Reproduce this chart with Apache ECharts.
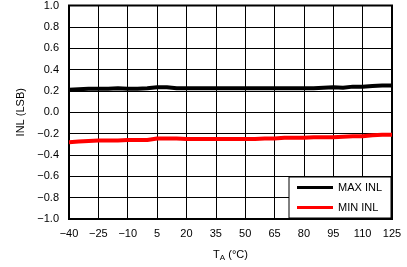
<!DOCTYPE html>
<html><head><meta charset="utf-8">
<script src="https://cdn.jsdelivr.net/npm/echarts@6/dist/echarts.min.js"></script>
<style>html,body{margin:0;padding:0;background:#fff}#c{width:407px;height:267px}</style>
</head><body><div id="c"></div>
<script>
const temps = [-40,-35,-30,-25,-20,-15,-10,-5,0,5,10,15,20,25,30,35,40,45,50,55,60,65,70,75,80,85,90,95,100,105,110,115,120,125];
const maxInl = [0.21,0.215,0.22,0.22,0.22,0.225,0.22,0.22,0.225,0.235,0.235,0.225,0.225,0.225,0.225,0.225,0.225,0.225,0.225,0.225,0.225,0.225,0.225,0.225,0.225,0.225,0.23,0.235,0.23,0.24,0.24,0.245,0.25,0.25];
const minInl = [-0.28,-0.275,-0.27,-0.265,-0.265,-0.265,-0.26,-0.26,-0.26,-0.245,-0.245,-0.245,-0.25,-0.25,-0.25,-0.25,-0.25,-0.25,-0.25,-0.25,-0.245,-0.245,-0.24,-0.24,-0.24,-0.235,-0.235,-0.235,-0.23,-0.225,-0.225,-0.215,-0.21,-0.21];
const seriesNames = ['MAX INL','MIN INL'];
const fmt = v => { const s = Math.abs(v).toFixed(1); return v < -1e-9 ? '\u2212' + s : s; };
const fmtX = v => v < 0 ? '\u2212' + Math.abs(v) : String(v);
const font = 'Liberation Sans, Arial, sans-serif';
const chart = echarts.init(document.getElementById('c'), null, {renderer:'canvas'});
chart.setOption({
  animation:false,
  backgroundColor:'#fff',
  grid:{left:69,right:15,top:5,bottom:43,show:true,borderColor:'#000',borderWidth:2,backgroundColor:'transparent'},
  xAxis:{type:'value',min:-40,max:125,interval:15,
    name:'{t|T}{s|A}{t| (°C)}',nameLocation:'middle',nameGap:29,
    nameTextStyle:{rich:{t:{fontFamily:font,fontSize:11,color:'#000'},s:{fontFamily:font,fontSize:8,color:'#000',verticalAlign:'bottom',padding:[6,0,0,0]}}},
    axisLine:{show:false},axisTick:{show:false},
    splitLine:{show:true,lineStyle:{color:'#000',width:1}},
    axisLabel:{formatter:fmtX,color:'#000',fontFamily:font,fontSize:11,margin:9}},
  yAxis:{type:'value',min:-1,max:1,interval:0.2,
    name:'INL (LSB)',nameLocation:'middle',nameGap:43,
    nameTextStyle:{fontFamily:font,fontSize:11,color:'#000'},
    axisLine:{show:false},axisTick:{show:false},
    splitLine:{show:true,lineStyle:{color:'#000',width:1}},
    axisLabel:{formatter:fmt,color:'#000',fontFamily:font,fontSize:11,margin:10}},
  legend:{orient:'vertical',left:289,top:177,width:88,
    backgroundColor:'#fff',borderColor:'#000',borderWidth:1,borderRadius:0,
    padding:[5,9,5,8],itemGap:9,itemWidth:36,itemHeight:3,
    textStyle:{fontFamily:font,fontSize:11,color:'#000'},
    data:[{name:seriesNames[0],icon:'rect'},{name:seriesNames[1],icon:'rect'}]},
  series:[
    {name:seriesNames[0],type:'line',data:temps.map((t,i)=>[t,maxInl[i]]),showSymbol:false,symbol:'none',lineStyle:{color:'#000',width:4},itemStyle:{color:'#000'},z:3},
    {name:seriesNames[1],type:'line',data:temps.map((t,i)=>[t,minInl[i]]),showSymbol:false,symbol:'none',lineStyle:{color:'#ff0000',width:4},itemStyle:{color:'#ff0000'},z:3}
  ]
});
</script></body></html>
